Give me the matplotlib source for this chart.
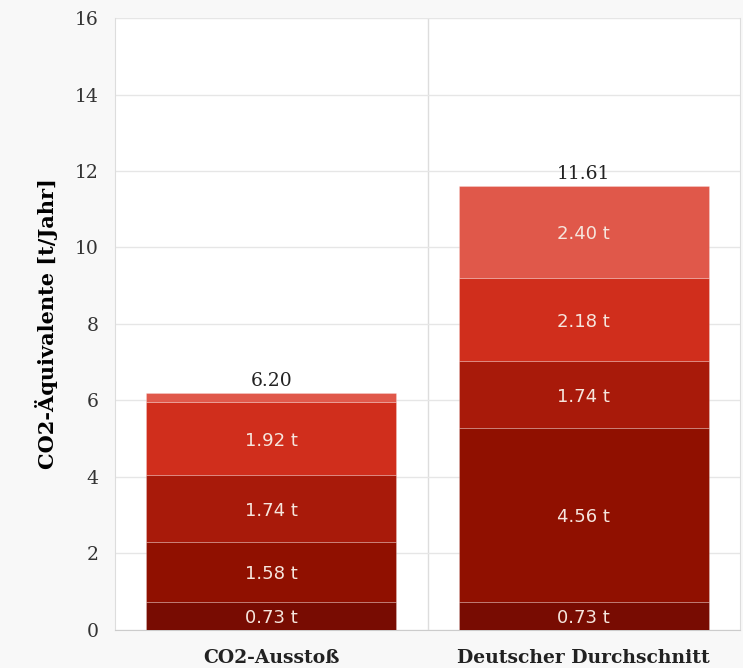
import matplotlib.pyplot as plt
import numpy as np

categories = ["CO2-Ausstoß", "Deutscher Durchschnitt"]
# stacked segments, bottom to top
seg1 = [0.73, 0.73]
seg2 = [1.58, 4.56]
seg3 = [1.74, 1.74]
seg4 = [1.92, 2.18]
seg5 = [0.23, 2.40]
totals = [6.20, 11.61]
yticks = [0, 2, 4, 6, 8, 10, 12, 14, 16]

colors = ["#780c02", "#901000", "#a81a0a", "#d02e1c", "#e0584a"]

fig = plt.figure(figsize=(7.43, 6.68), dpi=100, facecolor="#f8f8f8")
ax = fig.add_axes([0.155, 0.057, 0.841, 0.916])
ax.set_facecolor("white")

x = np.arange(len(categories))
bottom = np.zeros(len(categories))
for seg, col in zip([seg1, seg2, seg3, seg4, seg5], colors):
    seg = np.array(seg)
    ax.bar(x, seg, bottom=bottom, width=0.8, color=col, edgecolor=(1, 1, 1, 0.25), linewidth=0.6, zorder=3)
    for xi, b, v in zip(x, bottom, seg):
        if v > 0.5:
            ax.text(xi, b + v / 2 - 0.06, "%.2f t" % v, ha="center", va="center",
                    color="#f6e6de", fontsize=13, family="DejaVu Sans", zorder=4)
    bottom = bottom + seg

for xi, t in zip(x, totals):
    ax.text(xi, t + 0.08, "%.2f" % t, ha="center", va="bottom", fontsize=13.5,
            family="DejaVu Serif", color="#222222")

ax.set_xlim(-0.5, 1.5)
ax.set_ylim(0, 16)
ax.set_yticks(yticks)
ax.set_yticklabels([str(v) for v in yticks], family="DejaVu Serif", fontsize=13.5, color="#333333")
ax.set_xticks(x)
ax.set_xticklabels(categories, family="DejaVu Serif", fontsize=13.5, fontweight="bold", color="#222222")
ax.tick_params(length=0, pad=12)
ax.tick_params(axis="x", pad=14)
ax.set_ylabel("CO2-Äquivalente [t/Jahr]", family="DejaVu Serif", fontsize=15, fontweight="bold", labelpad=12)

ax.grid(axis="y", color="#e6e6e6", linewidth=1, zorder=0)
ax.axvline(0.5, color="#dddddd", linewidth=1, zorder=0)
ax.spines["top"].set_visible(False)
ax.spines["left"].set_color("#dddddd")
ax.spines["right"].set_color("#dddddd")
ax.spines["bottom"].set_color("#cccccc")

fig.savefig("out.png", dpi=100, facecolor=fig.get_facecolor())
